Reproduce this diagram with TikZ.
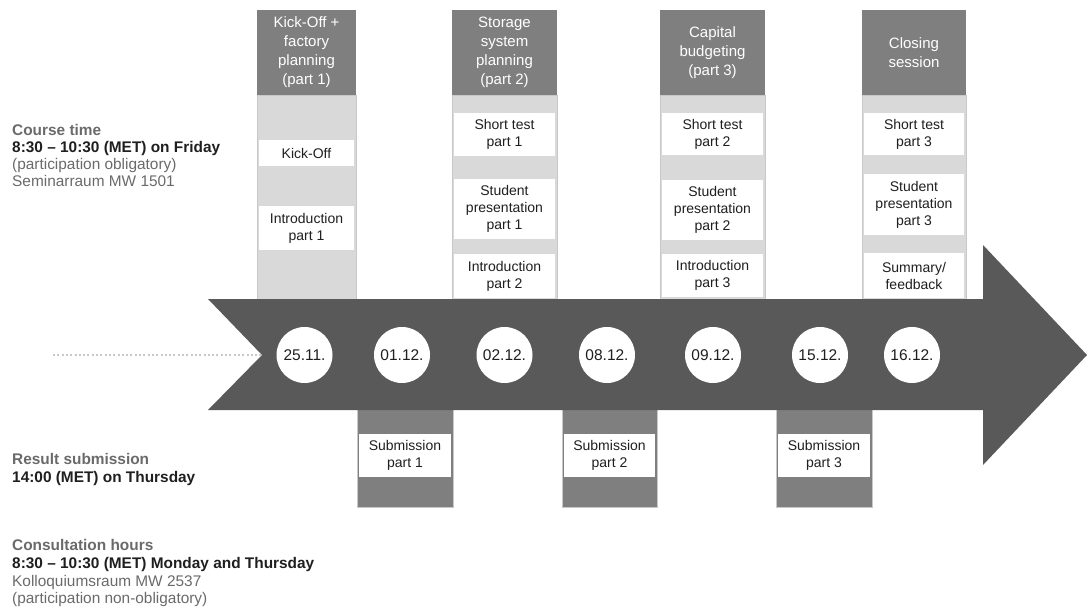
\documentclass[tikz,border=0pt]{standalone}
\usepackage{fontspec}
\setmainfont{Liberation Sans}
\definecolor{arrowgray}{HTML}{595959}
\definecolor{hdrgray}{HTML}{7F7F7F}
\definecolor{colgray}{HTML}{D9D9D9}
\definecolor{edgegray}{HTML}{C8C8C8}
\definecolor{txtdark}{HTML}{1F1F1F}
\definecolor{txtgray}{HTML}{6A6A6A}
\definecolor{dotgray}{HTML}{C8C8C8}
\begin{document}
\begin{tikzpicture}[x=1pt,y=-1pt,
  hdr/.style={fill=hdrgray, text=white, inner sep=0pt, align=center,
    font=\fontsize{15}{19}\selectfont},
  colbg/.style={fill=colgray, draw=edgegray, line width=0.6pt},
  subbg/.style={fill=hdrgray, draw=edgegray, line width=0.6pt},
  wbox/.style={fill=white, inner sep=0pt, align=center, text=txtdark,
    font=\fontsize{14}{17}\selectfont},
  datec/.style={circle, fill=white, minimum size=56pt, inner sep=0pt,
    text=txtdark, font=\fontsize{15.5}{18}\selectfont},
  lefthead/.style={anchor=base west, inner sep=0pt, text=txtgray,
    font=\fontsize{15.4}{18}\selectfont\bfseries},
  leftbold/.style={anchor=base west, inner sep=0pt, text=txtdark,
    font=\fontsize{15.4}{18}\selectfont\bfseries},
  leftreg/.style={anchor=base west, inner sep=0pt, text=txtgray,
    font=\fontsize{15.4}{18}\selectfont},
  dots/.style={draw=dotgray, line width=2pt, dash pattern=on 2pt off 2.3pt}
]
\useasboundingbox (0,0) rectangle (1087,610);

% column backgrounds (top)
\fill[colbg] (257,95) rectangle (356,299);
\fill[colbg] (452,95) rectangle (557,299);
\fill[colbg] (660,95) rectangle (765,299);
\fill[colbg] (862,95) rectangle (966,299);

% column backgrounds (bottom)
\fill[subbg] (357,409) rectangle (453,507);
\fill[subbg] (562,409) rectangle (657,507);
\fill[subbg] (776,409) rectangle (872,507);

% headers
\node[hdr, minimum width=99pt, minimum height=85pt] (h1) at (306.5,52.5) {Kick-Off +\\factory\\planning\\(part 1)};
\node[hdr, minimum width=105pt, minimum height=85pt] (h2) at (504.5,52.5) {Storage\\system\\planning\\(part 2)};
\node[hdr, minimum width=105pt, minimum height=85pt] (h3) at (712.5,52.5) {Capital\\budgeting\\(part 3)};
\node[hdr, minimum width=104pt, minimum height=85pt] (h4) at (914,52.5) {Closing\\session};

% column 1 boxes
\node[wbox, minimum width=95pt, minimum height=26pt] (c1a) at (306.5,153) {Kick-Off};
\node[wbox, minimum width=95pt, minimum height=44pt] (c1b) at (306.5,228) {Introduction\\part 1};

% column 2 boxes
\node[wbox, minimum width=101pt, minimum height=43pt] (c2a) at (504.5,134.5) {Short test\\part 1};
\node[wbox, minimum width=101pt, minimum height=60pt] (c2b) at (504.5,209) {Student\\presentation\\part 1};
\node[wbox, minimum width=101pt, minimum height=44pt] (c2c) at (504.5,276) {Introduction\\part 2};

% column 3 boxes
\node[wbox, minimum width=101pt, minimum height=42pt] (c3a) at (712.5,134) {Short test\\part 2};
\node[wbox, minimum width=101pt, minimum height=60pt] (c3b) at (712.5,210) {Student\\presentation\\part 2};
\node[wbox, minimum width=101pt, minimum height=43pt] (c3c) at (712.5,275.5) {Introduction\\part 3};

% column 4 boxes
\node[wbox, minimum width=100pt, minimum height=42pt] (c4a) at (914,134) {Short test\\part 3};
\node[wbox, minimum width=100pt, minimum height=61pt] (c4b) at (914,204.5) {Student\\presentation\\part 3};
\node[wbox, minimum width=100pt, minimum height=45pt] (c4c) at (914,275.5) {Summary/\\feedback};

% big arrow
\fill[arrowgray] (208,299) -- (983,299) -- (983,245) -- (1087,355) -- (983,465)
  -- (983,410) -- (208,410) -- (262,355) -- cycle;

% dotted lead-in
\coordinate (dstart) at (53,355);
\coordinate (notch) at (261,355);
\draw[dots] (dstart) -- (notch);

% submission boxes
\node[wbox, minimum width=92pt, minimum height=43pt] (s1) at (405,455.5) {Submission\\part 1};
\node[wbox, minimum width=91pt, minimum height=43pt] (s2) at (609.5,455.5) {Submission\\part 2};
\node[wbox, minimum width=92pt, minimum height=43pt] (s3) at (824,455.5) {Submission\\part 3};

% dates
\node[datec] (d1) at (304.5,355) {25.11.};
\node[datec] (d2) at (402,355) {01.12.};
\node[datec] (d3) at (504.5,355) {02.12.};
\node[datec] (d4) at (607,355) {08.12.};
\node[datec] (d5) at (713,355) {09.12.};
\node[datec] (d6) at (820,355) {15.12.};
\node[datec] (d7) at (912,355) {16.12.};

% left texts
\node[lefthead] (t1) at (12,135) {Course time};
\node[leftbold] (t2) at (12,152) {8:30 – 10:30 (MET) on Friday};
\node[leftreg]  (t3) at (12,169) {(participation obligatory)};
\node[leftreg]  (t4) at (12,186) {Seminarraum MW 1501};

\node[lefthead] (t5) at (12,464) {Result submission};
\node[leftbold] (t6) at (12,482) {14:00 (MET) on Thursday};

\node[lefthead] (t7) at (12,550) {Consultation hours};
\node[leftbold] (t8) at (12,568) {8:30 – 10:30 (MET) Monday and Thursday};
\node[leftreg]  (t9) at (12,586) {Kolloquiumsraum MW 2537};
\node[leftreg]  (t10) at (12,603) {(participation non-obligatory)};
\end{tikzpicture}
\end{document}
